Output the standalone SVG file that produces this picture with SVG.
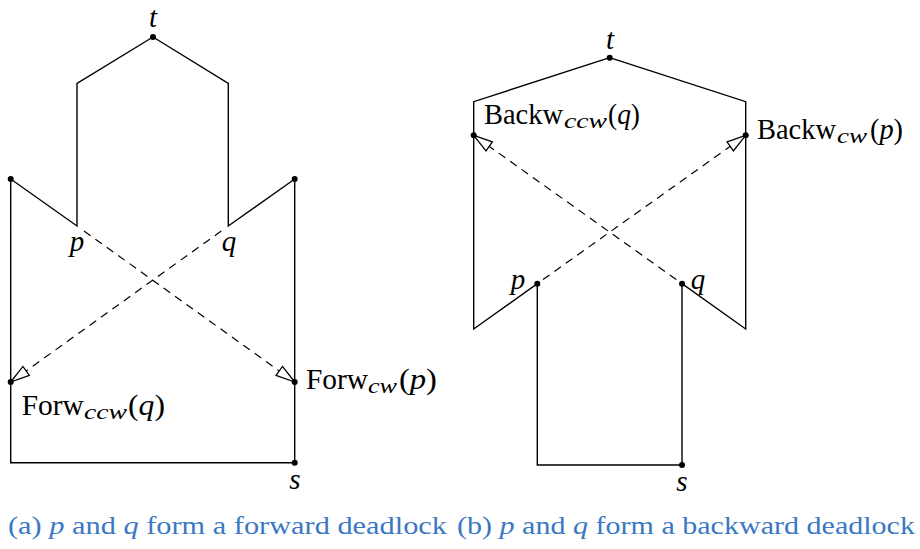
<svg xmlns="http://www.w3.org/2000/svg" width="920" height="549" viewBox="0 0 920 549">
<style>
.edge{fill:none;stroke:#000;stroke-width:1.4;stroke-linejoin:miter}
.dash{fill:none;stroke:#000;stroke-width:1.2;stroke-dasharray:8 6}
.dot{fill:#000}
.lbl{font-family:"Liberation Serif","Times New Roman",serif;font-size:29px;fill:#000}
.it{font-style:italic}
.sub{font-family:"Liberation Serif","Times New Roman",serif;font-style:italic;font-size:21px;fill:#000}
.cap{font-family:"Liberation Serif","Times New Roman",serif;font-size:25px;fill:#3a78c3}
</style>
<defs>
<marker id="oa" viewBox="0 0 22 14" refX="20.5" refY="7" markerWidth="22" markerHeight="14" markerUnits="userSpaceOnUse" orient="auto">
<path d="M1.5,1.5 L20.5,7 L1.5,12.5 Z" fill="#fff" stroke="#000" stroke-width="1.3"/>
</marker>
</defs>

<!-- Diagram (a) -->
<g id="a-outline">
<polyline class="edge" points="153,37 77,83.5 77,226 10.7,179 10.7,462.7 294.7,462.7 294.7,179 228.3,226 228.3,83.5 153,37"/>
</g>
<g id="a-connectors">
<line class="dash" x1="84" x2="294.7" y1="231" y2="382" marker-end="url(#oa)"/>
<line class="dash" x1="221.3" x2="10.7" y1="231" y2="382" marker-end="url(#oa)"/>
</g>
<g id="a-t"><circle class="dot" cx="153" cy="37" r="3"/><text class="lbl it" x="153" y="27" text-anchor="middle">t</text></g>
<g id="a-p"><text class="lbl it" x="77" y="251" text-anchor="middle">p</text></g>
<g id="a-q"><text class="lbl it" x="229" y="251" text-anchor="middle">q</text></g>
<g id="a-lt"><circle class="dot" cx="10.7" cy="179" r="3"/></g>
<g id="a-rt"><circle class="dot" cx="294.7" cy="179" r="3"/></g>
<g id="a-forwccw"><circle class="dot" cx="10.7" cy="382" r="3"/>
<text class="lbl" x="21.7" y="415" textLength="62" lengthAdjust="spacingAndGlyphs">Forw</text>
<text class="sub" x="84" y="419" textLength="43" lengthAdjust="spacingAndGlyphs">ccw</text>
<text class="lbl" x="128" y="415" textLength="37" lengthAdjust="spacingAndGlyphs">(<tspan class="it">q</tspan>)</text></g>
<g id="a-forwcw"><circle class="dot" cx="294.7" cy="382" r="3"/>
<text class="lbl" x="306" y="389" textLength="62" lengthAdjust="spacingAndGlyphs">Forw</text>
<text class="sub" x="368" y="393" textLength="29" lengthAdjust="spacingAndGlyphs">cw</text>
<text class="lbl" x="399" y="389" textLength="38" lengthAdjust="spacingAndGlyphs">(<tspan class="it">p</tspan>)</text></g>
<g id="a-s"><circle class="dot" cx="294.7" cy="462.7" r="3"/><text class="lbl it" x="295" y="489" text-anchor="middle">s</text></g>

<!-- Diagram (b) -->
<g id="b-outline">
<polyline class="edge" points="609.7,57.7 473.7,101.7 473.7,329 537.3,283.7 537.3,465 682,465 682,283.7 745.7,329 745.7,101.7 609.7,57.7"/>
</g>
<g id="b-connectors">
<line class="dash" x1="543" x2="745.7" y1="279.6" y2="135.3" marker-end="url(#oa)"/>
<line class="dash" x1="676.3" x2="473.7" y1="279.6" y2="135.3" marker-end="url(#oa)"/>
</g>
<g id="b-t"><circle class="dot" cx="609.7" cy="57.7" r="3"/><text class="lbl it" x="610" y="49" text-anchor="middle">t</text></g>
<g id="b-backwccw"><circle class="dot" cx="473.7" cy="135.3" r="3"/>
<text class="lbl" x="484" y="124" textLength="79" lengthAdjust="spacingAndGlyphs">Backw</text>
<text class="sub" x="564" y="128" textLength="43" lengthAdjust="spacingAndGlyphs">ccw</text>
<text class="lbl" x="608" y="124" textLength="32" lengthAdjust="spacingAndGlyphs">(<tspan class="it">q</tspan>)</text></g>
<g id="b-backwcw"><circle class="dot" cx="745.7" cy="135.3" r="3"/>
<text class="lbl" x="757" y="139" textLength="79" lengthAdjust="spacingAndGlyphs">Backw</text>
<text class="sub" x="837" y="143" textLength="30" lengthAdjust="spacingAndGlyphs">cw</text>
<text class="lbl" x="870" y="139" textLength="33" lengthAdjust="spacingAndGlyphs">(<tspan class="it">p</tspan>)</text></g>
<g id="b-p"><circle class="dot" cx="537.3" cy="283.7" r="3"/><text class="lbl it" x="518" y="289" text-anchor="middle">p</text></g>
<g id="b-q"><circle class="dot" cx="682" cy="283.7" r="3"/><text class="lbl it" x="698" y="289" text-anchor="middle">q</text></g>
<g id="b-s"><circle class="dot" cx="682" cy="465" r="3"/><text class="lbl it" x="682" y="491" text-anchor="middle">s</text></g>

<!-- Captions -->
<text class="cap" x="8" y="534" textLength="439" lengthAdjust="spacingAndGlyphs">(a) <tspan font-style="italic">p</tspan> and <tspan font-style="italic">q</tspan> form a forward deadlock</text>
<text class="cap" x="457" y="534" textLength="458" lengthAdjust="spacingAndGlyphs">(b) <tspan font-style="italic">p</tspan> and <tspan font-style="italic">q</tspan> form a backward deadlock</text>
</svg>
